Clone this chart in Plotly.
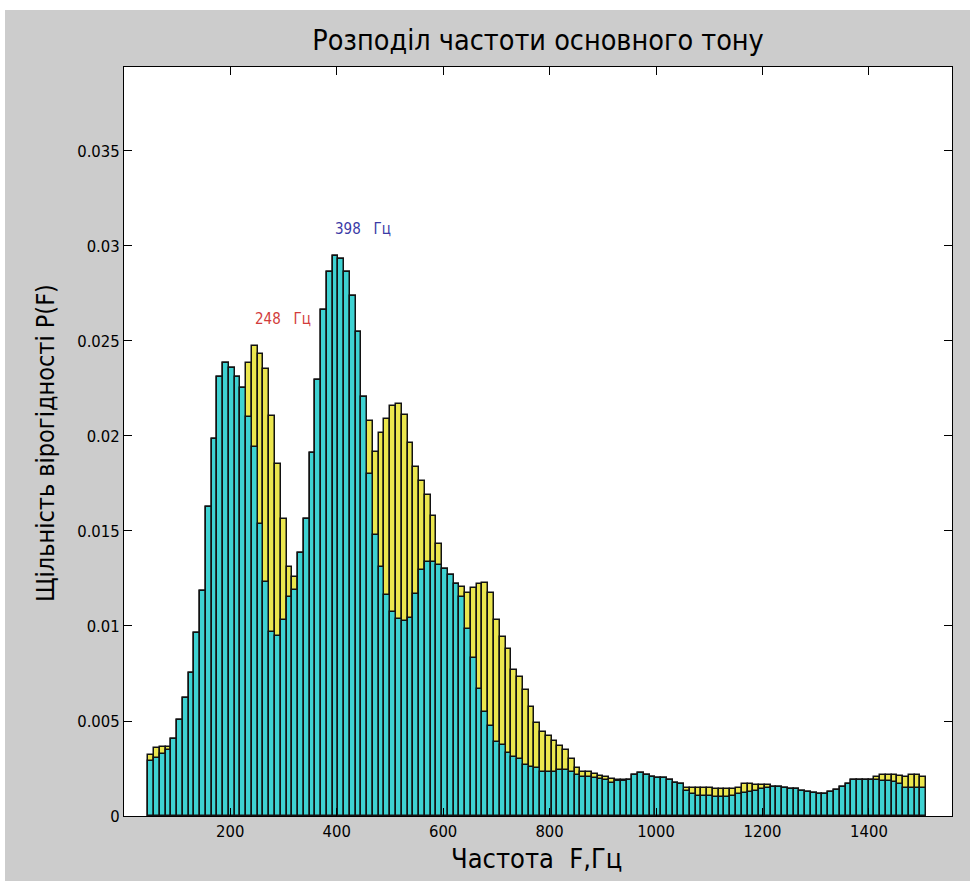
import numpy as np
import plotly.graph_objects as go

# Histogram bins of the fundamental frequency (Hz)
bin_start = 46.0
bin_width = 10.826

# Probability density, first recording set (drawn behind, yellow)
density_yellow = [
    0.00321, 0.00356, 0.00363, 0.00365, 0.00405, 0.00505, 0.00619, 0.00751, 0.00961, 0.01184,
    0.01628, 0.01982, 0.02309, 0.02382, 0.02356, 0.02309, 0.02251, 0.02382, 0.02474, 0.02432,
    0.02351, 0.02105, 0.01851, 0.01561, 0.01309, 0.01260, 0.01382, 0.01563, 0.01909, 0.02295,
    0.02663, 0.02862, 0.02949, 0.02932, 0.02862, 0.02739, 0.02549, 0.02204, 0.02080, 0.01915,
    0.02018, 0.02090, 0.02156, 0.02166, 0.02110, 0.01963, 0.01839, 0.01765, 0.01687, 0.01579,
    0.01429, 0.01300, 0.01267, 0.01223, 0.01205, 0.01176, 0.01199, 0.01223, 0.01228, 0.01174,
    0.01033, 0.00942, 0.00877, 0.00770, 0.00731, 0.00665, 0.00575, 0.00488, 0.00444, 0.00421,
    0.00395, 0.00370, 0.00347, 0.00298, 0.00254, 0.00230, 0.00230, 0.00221, 0.00212, 0.00204,
    0.00195, 0.00189, 0.00189, 0.00189, 0.00216, 0.00225, 0.00216, 0.00207, 0.00198, 0.00198,
    0.00189, 0.00172, 0.00167, 0.00149, 0.00149, 0.00149, 0.00149, 0.00149, 0.00140, 0.00140,
    0.00140, 0.00140, 0.00146, 0.00167, 0.00167, 0.00163, 0.00163, 0.00163, 0.00154, 0.00154,
    0.00149, 0.00142, 0.00142, 0.00133, 0.00128, 0.00123, 0.00118, 0.00114, 0.00128, 0.00137,
    0.00151, 0.00168, 0.00189, 0.00189, 0.00189, 0.00189, 0.00207, 0.00216, 0.00216, 0.00216,
    0.00211, 0.00204, 0.00216, 0.00216, 0.00204,
]

# Probability density, second recording set (drawn in front, cyan)
density_cyan = [
    0.00290, 0.00304, 0.00328, 0.00345, 0.00405, 0.00505, 0.00619, 0.00751, 0.00961, 0.01184,
    0.01628, 0.01982, 0.02309, 0.02382, 0.02356, 0.02309, 0.02251, 0.02102, 0.01940, 0.01535,
    0.01230, 0.00970, 0.00947, 0.01032, 0.01154, 0.01190, 0.01382, 0.01563, 0.01909, 0.02295,
    0.02663, 0.02862, 0.02949, 0.02932, 0.02862, 0.02739, 0.02549, 0.02204, 0.01800, 0.01478,
    0.01312, 0.01164, 0.01076, 0.01039, 0.01028, 0.01043, 0.01170, 0.01297, 0.01336, 0.01336,
    0.01320, 0.01300, 0.01267, 0.01223, 0.01150, 0.00985, 0.00829, 0.00669, 0.00546, 0.00474,
    0.00390, 0.00376, 0.00331, 0.00312, 0.00302, 0.00270, 0.00256, 0.00254, 0.00230, 0.00230,
    0.00230, 0.00242, 0.00240, 0.00230, 0.00216, 0.00207, 0.00207, 0.00202, 0.00195, 0.00189,
    0.00172, 0.00184, 0.00186, 0.00187, 0.00216, 0.00225, 0.00216, 0.00207, 0.00198, 0.00198,
    0.00189, 0.00172, 0.00167, 0.00133, 0.00116, 0.00107, 0.00107, 0.00107, 0.00102, 0.00102,
    0.00102, 0.00105, 0.00116, 0.00123, 0.00128, 0.00132, 0.00140, 0.00146, 0.00154, 0.00154,
    0.00149, 0.00142, 0.00142, 0.00133, 0.00128, 0.00123, 0.00118, 0.00114, 0.00128, 0.00137,
    0.00151, 0.00168, 0.00189, 0.00189, 0.00189, 0.00189, 0.00189, 0.00186, 0.00184, 0.00181,
    0.00167, 0.00146, 0.00149, 0.00146, 0.00146,
]

x_ticks = [200, 400, 600, 800, 1000, 1200, 1400]
y_ticks = [0, 0.005, 0.01, 0.015, 0.02, 0.025, 0.03, 0.035]
y_tick_labels = ["0", "0.005", "0.01", "0.015", "0.02", "0.025", "0.03", "0.035"]

peak_labels = [
    {"freq": 248, "text": "248\u00a0\u00a0\u00a0Гц", "color": "#d23c3c", "series": "yellow"},
    {"freq": 398, "text": "398\u00a0\u00a0\u00a0Гц", "color": "#3a3aa6", "series": "cyan"},
]

n_bins = len(density_cyan)
centers = bin_start + bin_width * (np.arange(n_bins) + 0.5)

FONT = "Liberation Sans Narrow, DejaVu Sans Condensed, Arial Narrow, Liberation Sans, sans-serif"
EDGE = dict(color="#121212", width=1.5)

fig = go.Figure()
fig.add_trace(go.Bar(x=centers, y=density_yellow, width=bin_width,
                     marker=dict(color="#ebe64e", line=EDGE), hoverinfo="x+y"))
fig.add_trace(go.Bar(x=centers, y=density_cyan, width=bin_width,
                     marker=dict(color="#3ed2d2", line=EDGE), hoverinfo="x+y"))

W, H = 970, 881
ml, mr, mt, mb = 124, 18, 67, 65
pw, ph = W - ml - mr, H - mt - mb


def px_to_paper(px, py):
    return (px - ml) / pw, (H - mb - py) / ph


annotations = []
series_vals = {"yellow": density_yellow, "cyan": density_cyan}
for lab in peak_labels:
    vals = series_vals[lab["series"]]
    idx = int(np.argmin(np.abs(centers - lab["freq"])))
    annotations.append(dict(x=lab["freq"], y=vals[idx] + 0.0014, xref="x", yref="y",
                            text=lab["text"], showarrow=False, xanchor="left", yanchor="middle",
                            xshift=-3,
                            font=dict(family=FONT, size=15, color=lab["color"])))

# axis titles
tx, ty = px_to_paper(536, 858)
annotations.append(dict(x=tx, y=ty, xref="paper", yref="paper", text="Частота\u00a0\u00a0F,Гц",
                        showarrow=False, xanchor="center", yanchor="middle",
                        font=dict(family=FONT, size=27, color="black")))
tx, ty = px_to_paper(45, 443)
annotations.append(dict(x=tx, y=ty, xref="paper", yref="paper", text="Щільність вірогідності P(F)",
                        showarrow=False, xanchor="center", yanchor="middle", textangle=-90,
                        font=dict(family=FONT, size=25, color="black")))

# thin white border along the top and left of the figure window
x0, y0 = px_to_paper(0, 0)
x1, y1 = px_to_paper(W, 10)
shapes = [dict(type="rect", xref="paper", yref="paper", x0=x0, x1=x1, y0=y1, y1=y0,
               fillcolor="white", line=dict(width=0), layer="above")]
x1b, y1b = px_to_paper(5, H)
shapes.append(dict(type="rect", xref="paper", yref="paper", x0=x0, x1=x1b, y0=y1b, y1=y0,
                   fillcolor="white", line=dict(width=0), layer="above"))

axis_common = dict(showline=True, linecolor="black", linewidth=1, mirror="ticks",
                   ticks="inside", ticklen=8, tickcolor="black", showgrid=False, zeroline=False,
                   tickfont=dict(family=FONT, size=16.5, color="black"))

fig.update_layout(
    width=W, height=H,
    margin=dict(l=ml, r=mr, t=mt, b=mb),
    paper_bgcolor="#cccccc", plot_bgcolor="white",
    barmode="overlay", bargap=0, showlegend=False,
    title=dict(text="Розподіл частоти основного тону", x=0.5, xref="paper",
               y=1 - 40 / H, yref="container", xanchor="center", yanchor="middle",
               font=dict(family=FONT, size=28.5, color="black")),
    xaxis=dict(range=[0.5, 1556], tickvals=x_ticks, **axis_common),
    yaxis=dict(range=[0, 0.03942], tickvals=y_ticks, ticktext=y_tick_labels, **axis_common),
    annotations=annotations,
    shapes=shapes,
)

fig.write_html("out.html")
